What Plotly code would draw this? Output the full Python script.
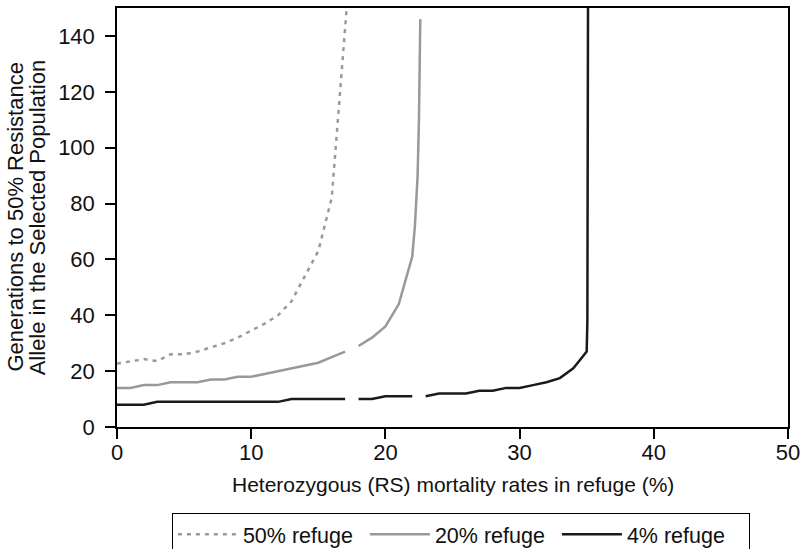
import plotly.graph_objects as go

# Heterozygous (RS) mortality in refuge (%) and generations to 50% resistance
x_50 = [0, 1, 2, 3, 4, 5, 6, 7, 8, 9, 10, 11, 12, 13, 14, 15, 16, 17.15]
y_50 = [22.7, 23.6, 24.3, 23.6, 26, 26, 27, 28.5, 30, 32, 34.5, 37, 40, 45, 54, 63, 82, 152]

x_20 = [0, 1, 2, 3, 4, 5, 6, 7, 8, 9, 10, 11, 12, 13, 14, 15, 16, 17, 17.5,
        18, 19, 20, 21, 22, 22.2, 22.4, 22.5, 22.6]
y_20 = [14, 14, 15, 15, 16, 16, 16, 17, 17, 18, 18, 19, 20, 21, 22, 23, 25, 27, None,
        29, 32, 36, 44, 61, 72, 90, 110, 146]

x_4 = [0, 1, 2, 3, 4, 5, 6, 7, 8, 9, 10, 11, 12, 13, 14, 15, 16, 17, 17.5,
       18, 19, 20, 21, 22, 22.5, 23, 24, 25, 26, 27, 28, 29, 30, 31, 32, 33, 34, 34.5,
       35, 35.05, 35.1]
y_4 = [8, 8, 8, 9, 9, 9, 9, 9, 9, 9, 9, 9, 9, 10, 10, 10, 10, 10, None,
       10, 10, 11, 11, 11, None, 11, 12, 12, 12, 13, 13, 14, 14, 15, 16, 17.5, 21, 24,
       27, 38, 155]

x_ticks = [0, 10, 20, 30, 40, 50]
y_ticks = [0, 20, 40, 60, 80, 100, 120, 140]

x_title = "Heterozygous (RS) mortality rates in refuge (%)"
y_title_lines = ["Generations to 50% Resistance", "Allele in the Selected Population"]

FONT = "Liberation Sans, Arial, sans-serif"

fig = go.Figure()
fig.add_trace(go.Scatter(x=x_50, y=y_50, mode="lines", name="50% refuge",
                         line=dict(color="#9a9a9a", width=2.5, dash="4px,5px"),
                         connectgaps=False))
fig.add_trace(go.Scatter(x=x_20, y=y_20, mode="lines", name="20% refuge",
                         line=dict(color="#999999", width=2.5),
                         connectgaps=False))
fig.add_trace(go.Scatter(x=x_4, y=y_4, mode="lines", name="4% refuge",
                         line=dict(color="#1a1a1a", width=2.5),
                         connectgaps=False))

axis_common = dict(showgrid=False, zeroline=False, showline=True, linecolor="black",
                   linewidth=1.5, mirror=True, ticks="outside", ticklen=10,
                   tickwidth=1.5, tickcolor="black", automargin=False,
                   tickfont=dict(family=FONT, size=22, color="#111"))

fig.update_xaxes(range=[0, 50], tickvals=x_ticks, ticklabelstandoff=-5, **axis_common)
fig.update_yaxes(range=[0, 150], tickvals=y_ticks, ticklabelstandoff=6, **axis_common)

fig.add_annotation(text=x_title,
                   xref="paper", yref="paper", x=0.5, y=-0.138,
                   xanchor="center", yanchor="middle", showarrow=False,
                   font=dict(family=FONT, size=21, color="#111"))
for i, line in enumerate(y_title_lines):
    fig.add_annotation(text=line,
                       xref="paper", yref="paper", x=[-0.152, -0.118][i], y=0.5,
                       textangle=-90, xanchor="center", yanchor="middle",
                       showarrow=False,
                       font=dict(family=FONT, size=22, color="#111"))

fig.update_layout(
    width=806, height=549,
    margin=dict(l=117, r=18, t=8, b=122, autoexpand=False),
    plot_bgcolor="white", paper_bgcolor="white",
    legend=dict(orientation="h", x=0.5125, xanchor="center", y=-0.205, yanchor="top",
                bordercolor="black", borderwidth=1, itemwidth=60,
                entrywidth=117, entrywidthmode="pixels",
                font=dict(family=FONT, size=21.5, color="#111"),
                bgcolor="white"),
)

fig.write_html("out.html", config={"displayModeBar": False},
               post_script="document.body.style.margin='0';document.body.style.padding='0';")
